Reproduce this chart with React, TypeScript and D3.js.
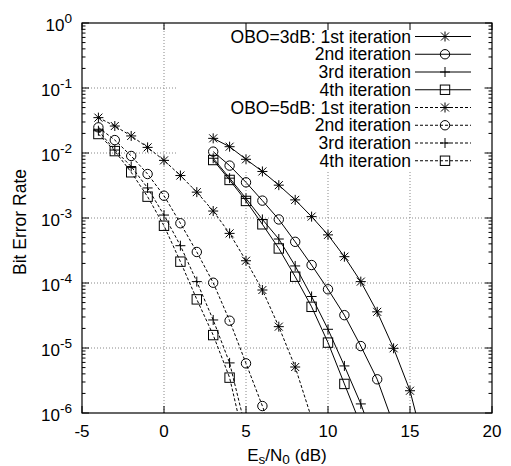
import React from 'react';
import * as d3 from 'd3';

// ---- data ----
const xTicks = [-5, 0, 5, 10, 15, 20];
const yDecades = [0, -1, -2, -3, -4, -5, -6];

const xs5 = [-4, -3, -2, -1, 0, 1, 2, 3, 4, 5, 6, 7, 8, 9];
const ber5_1 = [3.5e-2, 2.6e-2, 1.83e-2, 1.22e-2, 7.7e-3, 4.5e-3, 2.5e-3, 1.28e-3, 5.8e-4, 2.2e-4, 7.8e-5, 2.13e-5, 5.1e-6, 8.3e-7];
const ber5_2 = [2.48e-2, 1.58e-2, 9e-3, 4.75e-3, 2.2e-3, 8.3e-4, 3e-4, 1.01e-4, 2.63e-5, 5.8e-6, 1.28e-6, 2.5e-7];
const ber5_3 = [2.2e-2, 1.11e-2, 6.2e-3, 2.9e-3, 1.11e-3, 3.75e-4, 1.05e-4, 2.7e-5, 5.9e-6, 5.5e-7];
const ber5_4 = [1.96e-2, 1.07e-2, 5.05e-3, 2.13e-3, 7.6e-4, 2.13e-4, 5.6e-5, 1.58e-5, 3.5e-6, 2.8e-7];

const xs3 = [3, 4, 5, 6, 7, 8, 9, 10, 11, 12, 13, 14, 15, 16];
const ber3_1 = [1.68e-2, 1.25e-2, 8e-3, 5.2e-3, 3.2e-3, 1.9e-3, 1.05e-3, 5.5e-4, 2.54e-4, 1.05e-4, 3.6e-5, 9.9e-6, 2.2e-6, 2.3e-7];
const ber3_2 = [1.05e-2, 6.4e-3, 3.54e-3, 1.85e-3, 9.5e-4, 4.3e-4, 1.89e-4, 8e-5, 3.2e-5, 1.07e-5, 3.3e-6, 6.6e-7];
const ber3_3 = [8.3e-3, 4.1e-3, 2.0e-3, 9.5e-4, 4.75e-4, 1.83e-4, 6.2e-5, 1.94e-5, 5.3e-6, 1.38e-6, 2.8e-7];
const ber3_4 = [7.8e-3, 3.85e-3, 1.83e-3, 8e-4, 3.4e-4, 1.25e-4, 4.3e-5, 1.21e-5, 2.8e-6, 6.5e-7];

const legendLabels = [
  'OBO=3dB: 1st iteration', '2nd iteration', '3rd iteration', '4th iteration',
  'OBO=5dB: 1st iteration', '2nd iteration', '3rd iteration', '4th iteration',
];

type Marker = 'star' | 'circle' | 'plus' | 'square';
interface Series { xs: number[]; ys: number[]; marker: Marker; dashed: boolean; }

const series: Series[] = [
  { xs: xs3, ys: ber3_1, marker: 'star', dashed: false },
  { xs: xs3, ys: ber3_2, marker: 'circle', dashed: false },
  { xs: xs3, ys: ber3_3, marker: 'plus', dashed: false },
  { xs: xs3, ys: ber3_4, marker: 'square', dashed: false },
  { xs: xs5, ys: ber5_1, marker: 'star', dashed: true },
  { xs: xs5, ys: ber5_2, marker: 'circle', dashed: true },
  { xs: xs5, ys: ber5_3, marker: 'plus', dashed: true },
  { xs: xs5, ys: ber5_4, marker: 'square', dashed: true },
];

const FONT = '"Liberation Sans", Arial, Helvetica, sans-serif';
const FS = 17;
const FS_KEY = 17.5;

function MarkerShape({ kind, cx, cy }: { kind: Marker; cx: number; cy: number }) {
  const s = 5;
  const st = { stroke: '#000', strokeWidth: 1, fill: 'none' } as const;
  if (kind === 'circle') return <circle cx={cx} cy={cy} r={4.7} {...st} />;
  if (kind === 'square') return <rect x={cx - 4.7} y={cy - 4.7} width={9.4} height={9.4} {...st} />;
  if (kind === 'plus')
    return <path d={`M${cx - s},${cy}H${cx + s}M${cx},${cy - s}V${cy + s}`} {...st} />;
  const d = s * 0.8;
  return (
    <path
      d={`M${cx - s},${cy}H${cx + s}M${cx},${cy - s}V${cy + s}M${cx - d},${cy - d}L${cx + d},${cy + d}M${cx - d},${cy + d}L${cx + d},${cy - d}`}
      {...st}
    />
  );
}

export default function App() {
  const W = 511, H = 466;
  const L = 82, R = 492, T = 23, B = 413;
  const x = d3.scaleLinear().domain([-5, 20]).range([L, R]);
  const y = d3.scaleLog().domain([1e-6, 1]).range([B, T]);
  const line = d3.line<[number, number]>().x(d => x(d[0])).y(d => y(d[1]));

  const minorY: number[] = [];
  for (let k = -6; k < 0; k++) for (let m = 2; m <= 9; m++) minorY.push(m * Math.pow(10, k));

  // legend box area (covers grid)
  const keyL = 177, keyR = 482, keyB = 170;
  const rowY = (i: number) => 36.5 + i * 17.75;

  const gridStyle = { stroke: '#888', strokeWidth: 1, strokeDasharray: '1,2', fill: 'none' } as const;

  return (
    <svg width={W} height={H} style={{ position: 'absolute', left: 0, top: 0, background: '#fff' }} fontFamily={FONT}>
      <defs>
        <clipPath id="plotclip">
          <rect x={L} y={T} width={R - L} height={B - T} />
        </clipPath>
      </defs>
      <rect x={0} y={0} width={W} height={H} fill="#fff" />
      {/* grid */}
      {xTicks.slice(1, -1).map(t => (
        <line key={'gx' + t} x1={x(t)} x2={x(t)} y1={B} y2={T} {...gridStyle} />
      ))}
      {yDecades.slice(1, -1).map(k => (
        <line key={'gy' + k} x1={L} x2={R} y1={y(Math.pow(10, k))} y2={y(Math.pow(10, k))} {...gridStyle} />
      ))}
      {/* key background */}
      <rect x={keyL} y={T + 1} width={keyR - keyL} height={keyB - T - 1} fill="#fff" />

      {/* curves */}
      <g clipPath="url(#plotclip)">
        {series.map((s, i) => {
          const pts = s.xs.slice(0, s.ys.length).map((xv, j) => [xv, s.ys[j]] as [number, number]);
          return (
            <g key={'s' + i}>
              <path d={line(pts) || ''} fill="none" stroke="#000" strokeWidth={1}
                strokeDasharray={s.dashed ? '3,2' : undefined} />
              {pts.filter(p => p[1] >= 1e-6).map((p, j) => (
                <MarkerShape key={j} kind={s.marker} cx={x(p[0])} cy={y(p[1])} />
              ))}
            </g>
          );
        })}
      </g>

      {/* legend */}
      {series.map((s, i) => (
        <g key={'lg' + i}>
          <text x={411} y={rowY(i) + 6} textAnchor="end" fontSize={FS_KEY} fill="#000">{legendLabels[i]}</text>
          <line x1={415} x2={471} y1={rowY(i)} y2={rowY(i)} stroke="#000" strokeWidth={1}
            strokeDasharray={s.dashed ? '3,2' : undefined} />
          <MarkerShape kind={s.marker} cx={445} cy={rowY(i)} />
        </g>
      ))}

      {/* ticks */}
      {xTicks.map(t => (
        <g key={'xt' + t}>
          <line x1={x(t)} x2={x(t)} y1={B} y2={B - 7} stroke="#000" />
          <line x1={x(t)} x2={x(t)} y1={T} y2={T + 7} stroke="#000" />
          <text x={x(t)} y={437} textAnchor="middle" fontSize={FS} fill="#000">{t}</text>
        </g>
      ))}
      {yDecades.map(k => {
        const yy = y(Math.pow(10, k));
        return (
          <g key={'yt' + k}>
            <line x1={L} x2={L + 7} y1={yy} y2={yy} stroke="#000" />
            <line x1={R} x2={R - 7} y1={yy} y2={yy} stroke="#000" />
            <text x={72} y={yy + 8} textAnchor="end" fontSize={FS} fill="#000">
              10<tspan dy={-8} fontSize={FS * 0.8}>{k}</tspan>
            </text>
          </g>
        );
      })}
      {minorY.map((v, i) => (
        <g key={'my' + i}>
          <line x1={L} x2={L + 3.5} y1={y(v)} y2={y(v)} stroke="#000" />
          <line x1={R} x2={R - 3.5} y1={y(v)} y2={y(v)} stroke="#000" />
        </g>
      ))}

      {/* frame */}
      <rect x={L} y={T} width={R - L} height={B - T} fill="none" stroke="#000" strokeWidth={1.2} />

      {/* axis labels */}
      <text x={287} y={461} textAnchor="middle" fontSize={FS} fill="#000">
        E<tspan fontSize={FS * 0.8} dy={3}>s</tspan><tspan dy={-3}>/N</tspan><tspan fontSize={FS * 0.8} dy={3}>0</tspan><tspan dy={-3}> (dB)</tspan>
      </text>
      <text transform={`translate(26,${(T + B) / 2 + 4}) rotate(-90)`} textAnchor="middle" fontSize={FS_KEY} fill="#000">
        Bit Error Rate
      </text>
    </svg>
  );
}
